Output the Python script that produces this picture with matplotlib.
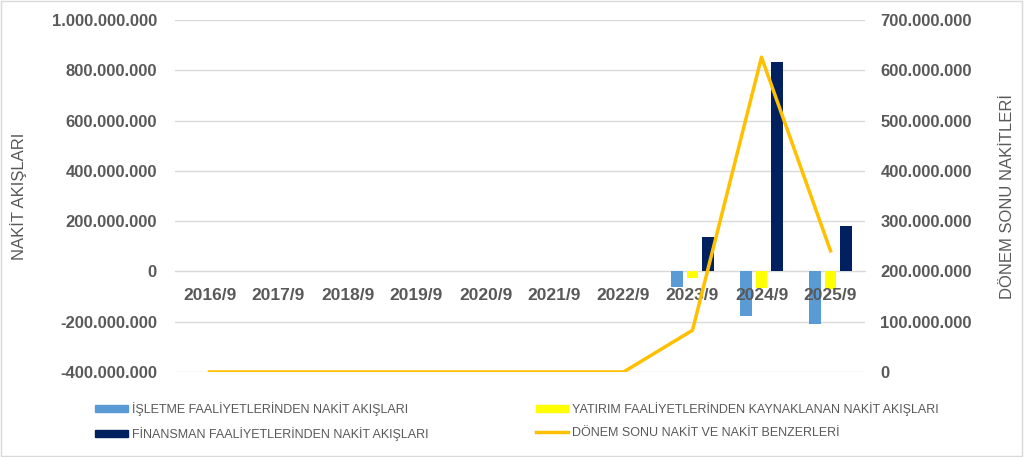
import matplotlib.pyplot as plt
import numpy as np
from matplotlib.ticker import FuncFormatter
from matplotlib.patches import Patch
from matplotlib.lines import Line2D

plt.rcParams['font.family'] = ['Liberation Sans', 'DejaVu Sans']

years = ['2016/9', '2017/9', '2018/9', '2019/9', '2020/9',
         '2021/9', '2022/9', '2023/9', '2024/9', '2025/9']
isletme = [0, 0, 0, 0, 0, 0, 0, -60e6, -176e6, -211e6]
yatirim = [0, 0, 0, 0, 0, 0, 0, -28e6, -65e6, -68e6]
finansman = [0, 0, 0, 0, 0, 0, 0, 135e6, 833e6, 179e6]
donem_sonu = [0, 0, 0, 0, 0, 0, 0, 83e6, 626e6, 241e6]

labels = ['İŞLETME FAALİYETLERİNDEN NAKİT AKIŞLARI',
          'YATIRIM FAALİYETLERİNDEN KAYNAKLANAN NAKİT AKIŞLARI',
          'FİNANSMAN FAALİYETLERİNDEN NAKİT AKIŞLARI',
          'DÖNEM SONU NAKİT VE NAKİT BENZERLERİ']
colors = ['#5b9bd5', '#ffff00', '#002060', '#ffc000']
txt = '#595959'

def dots(v, pos):
    return f'{v:,.0f}'.replace(',', '.')

fig = plt.figure(figsize=(10.24, 4.57), dpi=100)
ax = fig.add_axes([175/1024, 1 - 372/457, 690/1024, 352/457])
ax2 = ax.twinx()

x = np.arange(len(years))
w = 0.17
off = 0.22
ax.bar(x - off, isletme, w, color=colors[0], zorder=2)
ax.bar(x, yatirim, w, color=colors[1], zorder=2)
ax.bar(x + off, finansman, w, color=colors[2], zorder=2)
ax2.plot(x, donem_sonu, color=colors[3], lw=2.5, zorder=4)

ax.set_xlim(-0.5, len(years) - 0.5)
ax.set_ylim(-400e6, 1000e6)
ax.set_yticks(np.arange(-400e6, 1000e6 + 1, 200e6))
ax2.set_ylim(0, 700e6)
ax2.set_yticks(np.arange(0, 700e6 + 1, 100e6))
ax.yaxis.set_major_formatter(FuncFormatter(dots))
ax2.yaxis.set_major_formatter(FuncFormatter(dots))

ax.grid(axis='y', color='#d9d9d9', lw=1, zorder=0)
ax.set_axisbelow(False)
ax.yaxis.set_zorder(0.5)
for a in (ax, ax2):
    for s in a.spines.values():
        s.set_visible(False)
ax.spines['bottom'].set_visible(True)
ax.spines['bottom'].set_position(('data', 0))
ax.spines['bottom'].set_color('#d9d9d9')
ax.spines['bottom'].set_zorder(0.6)
ax.xaxis.set_zorder(3)

ax.set_xticks(x)
ax.set_xticklabels(years)
ax.tick_params(axis='x', length=0, pad=12, labelsize=12.5, labelcolor=txt)
ax.tick_params(axis='y', length=0, pad=13, labelsize=12, labelcolor=txt)
ax2.tick_params(axis='y', length=0, pad=11, labelsize=12, labelcolor=txt)
for lab in ax.get_xticklabels() + ax.get_yticklabels() + ax2.get_yticklabels():
    lab.set_fontweight('bold')

ax.set_ylabel('NAKİT AKIŞLARI', fontsize=12, color=txt, labelpad=18)
ax2.set_ylabel('DÖNEM SONU NAKİTLERİ', fontsize=12, color=txt, labelpad=20)

handles = [Patch(color=colors[0]), Patch(color=colors[2]),
           Patch(color=colors[1]), Line2D([], [], color=colors[3], lw=2.5)]
leg_labels = [labels[0], labels[2], labels[1], labels[3]]
leg = fig.legend(handles, leg_labels, ncol=2, loc='lower left',
                 bbox_to_anchor=(84/1024, 0.01), frameon=False, fontsize=9,
                 handlelength=2.6, handleheight=0.5, columnspacing=8.6,
                 labelspacing=0.9, handletextpad=0.3)
for t in leg.get_texts():
    t.set_color(txt)

fig.patches.append(plt.Rectangle((0.001, 0.002), 0.997, 0.995, transform=fig.transFigure,
                                 fill=False, edgecolor='#d9d9d9', lw=1))

fig.savefig('out.png', dpi=100)
